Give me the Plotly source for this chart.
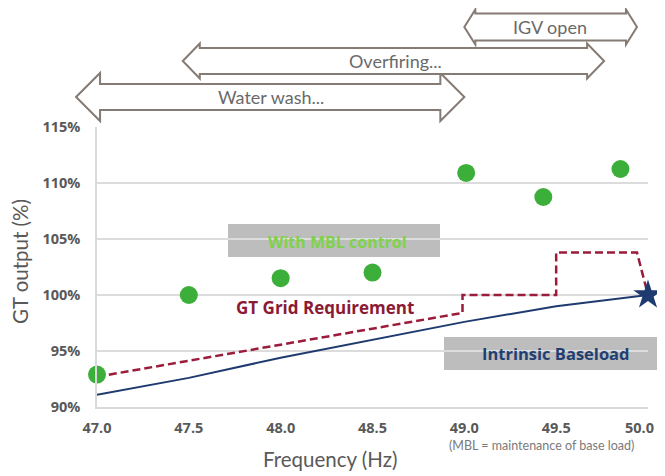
import plotly.graph_objects as go

# ---------------- data ----------------
freq_line = [47.0, 47.5, 48.0, 48.5, 49.0, 49.5, 50.0]
intrinsic_baseload = [91.1, 92.6, 94.4, 96.0, 97.6, 99.0, 100.0]

grid_req_freq = [47.0, 48.99, 48.99, 49.5, 49.5, 49.94, 50.0]
grid_req_value = [92.7, 98.4, 100.0, 100.0, 103.8, 103.8, 100.0]

mbl_freq = [47.0, 47.5, 48.0, 48.5, 49.01, 49.43, 49.85]
mbl_value = [92.9, 100.0, 101.5, 102.0, 110.9, 108.75, 111.25]

star_freq = [50.0]
star_value = [100.0]

x_ticks = [47.0, 47.5, 48.0, 48.5, 49.0, 49.5, 50.0]
x_tick_labels = ["47.0", "47.5", "48.0", "48.5", "49.0", "49.5", "50.0"]
y_ticks = [90, 95, 100, 105, 110, 115]
y_tick_labels = ["90%", "95%", "100%", "105%", "110%", "115%"]

# ---------------- geometry helpers (layout only) ----------------
OFF = 8                      # page body margin offset
W, H = 665 - 2 * OFF, 476 - OFF
L, T = 97 - OFF, 127 - OFF
PLOT_R, PLOT_B = 648 - OFF, 407 - OFF
R, B = W - PLOT_R, H - PLOT_B
PW, PH = PLOT_R - L, PLOT_B - T
X0, X1 = 47.0, 50.0


def fx(f):  # frequency -> paper x
    return (f - X0) / (X1 - X0)


def px_x(p):  # screen pixel x -> paper x
    return (p - OFF - L) / PW


def px_y(p):  # screen pixel y -> paper y
    return (PLOT_B - (p - OFF)) / PH


GRAY_TXT = "#595959"
FONT = "Lato"
BFONT = "Open Sans"

fig = go.Figure()

fig.add_trace(go.Scatter(x=freq_line, y=intrinsic_baseload, mode="lines",
                         line=dict(color="#1f3a6e", width=2), hoverinfo="skip"))
fig.add_trace(go.Scatter(x=grid_req_freq, y=grid_req_value, mode="lines",
                         line=dict(color="#9b1b3a", width=2.5, dash="8px,4px"), hoverinfo="skip"))
fig.add_trace(go.Scatter(x=mbl_freq, y=mbl_value, mode="markers",
                         marker=dict(color="#3cae3a", size=18, line=dict(width=0)), hoverinfo="skip",
                         cliponaxis=False))
fig.add_trace(go.Scatter(x=star_freq, y=star_value, mode="markers",
                         marker=dict(color="#1f3a6e", size=22, symbol="star", line=dict(width=0)),
                         hoverinfo="skip", cliponaxis=False))

shapes = []
annotations = []

# Double-headed block arrows above the plot
arrows = [
    # label, left tip freq, right tip freq, center px y, head half h, shaft half h, head depth px, text center px x
    ("Water wash...", 46.886, 49.0, 97, 24, 13, 24, 271),
    ("Overfiring...", 47.467, 49.761, 61, 17.5, 13, 17, 396),
    ("IGV open", 49.0, 49.94, 27, 17.5, 13.5, 11, 550),
]
for label, fl, fr, cy, hh, sh, hd, tx in arrows:
    xl, xr = fx(fl), fx(fr)
    d = hd / PW
    c = px_y(cy)
    Hh, Sh = hh / PH, sh / PH
    pts = [(xl, c), (xl + d, c + Hh), (xl + d, c + Sh), (xr - d, c + Sh), (xr - d, c + Hh),
           (xr, c), (xr - d, c - Hh), (xr - d, c - Sh), (xl + d, c - Sh), (xl + d, c - Hh)]
    path = "M " + " L ".join(f"{a:.5f},{b:.5f}" for a, b in pts) + " Z"
    shapes.append(dict(type="path", xref="paper", yref="paper", path=path,
                       fillcolor="white", line=dict(color="#857b74", width=2), layer="above"))
    annotations.append(dict(xref="paper", yref="paper", x=px_x(tx), y=c, text=label,
                            showarrow=False, font=dict(family=FONT, size=18, color="#6a6a6a"),
                            xanchor="center", yanchor="middle"))

# Gray label boxes
shapes.append(dict(type="rect", xref="paper", yref="paper",
                   x0=px_x(228), x1=px_x(440), y0=px_y(257), y1=px_y(224),
                   fillcolor="#bdbdbd", line=dict(width=0), layer="below"))
shapes.append(dict(type="rect", xref="paper", yref="paper",
                   x0=px_x(444), x1=px_x(670), y0=px_y(370), y1=px_y(337),
                   fillcolor="#bdbdbd", line=dict(width=0), layer="below"))

annotations += [
    dict(xref="paper", yref="paper", x=px_x(337), y=px_y(242), text="<b>With MBL control</b>",
         showarrow=False, xanchor="center", yanchor="middle",
         font=dict(family=BFONT, size=16, color="#7ed24a")),
    dict(xref="paper", yref="paper", x=px_x(325), y=px_y(307), text="<b>GT Grid Requirement</b>",
         showarrow=False, xanchor="center", yanchor="middle",
         font=dict(family=BFONT, size=17, color="#8b1a35")),
    dict(xref="paper", yref="paper", x=px_x(556), y=px_y(353), text="<b>Intrinsic Baseload</b>",
         showarrow=False, xanchor="center", yanchor="middle",
         font=dict(family=BFONT, size=16.5, color="#1f3f73")),
    dict(xref="paper", yref="paper", x=px_x(447), y=px_y(445), text="(MBL = maintenance of base load)",
         showarrow=False, xanchor="left", yanchor="middle",
         font=dict(family=FONT, size=12.5, color="#7a7a7a")),
    dict(xref="paper", yref="paper", x=px_x(330), y=px_y(459), text="Frequency (Hz)",
         showarrow=False, xanchor="center", yanchor="middle",
         font=dict(family=FONT, size=20.5, color=GRAY_TXT)),
    dict(xref="paper", yref="paper", x=px_x(20), y=px_y(262), text="GT output (%)", textangle=-90,
         showarrow=False, xanchor="center", yanchor="middle",
         font=dict(family=FONT, size=20.5, color=GRAY_TXT)),
    # last x tick label, right-aligned so it stays inside the page
    dict(xref="paper", yref="paper", x=1.0 + (R - 1) / PW, y=px_y(427),
         text=f"<b>{x_tick_labels[-1]}</b>", showarrow=False, xanchor="right", yanchor="middle",
         font=dict(family=BFONT, size=14.5, color=GRAY_TXT)),
]

tick_font = dict(family=BFONT, size=14.5, color=GRAY_TXT)
x_ticktext = [f"<b>{t}</b>" for t in x_tick_labels[:-1]] + [""]

fig.update_layout(
    width=W, height=H,
    margin=dict(l=L, r=R, t=T, b=B, autoexpand=False),
    paper_bgcolor="white", plot_bgcolor="white",
    showlegend=False,
    shapes=shapes, annotations=annotations,
    font=dict(family=FONT, color=GRAY_TXT),
    xaxis=dict(range=[X0, X1], tickmode="array", tickvals=x_ticks,
               ticktext=x_ticktext, showgrid=False,
               showline=True, linecolor="#d9d9d9", linewidth=1.5, ticks="", zeroline=False,
               ticklabelstandoff=7, tickfont=tick_font),
    yaxis=dict(range=[90, 115], tickmode="array", tickvals=y_ticks,
               ticktext=[f"<b>{t}</b>" for t in y_tick_labels], showgrid=True,
               gridcolor="#dcdcdc", gridwidth=1.5, showline=True, linecolor="#d9d9d9",
               linewidth=1.5, ticks="", zeroline=False, ticklabelstandoff=12,
               tickfont=tick_font),
)

fig.write_html("out.html")
